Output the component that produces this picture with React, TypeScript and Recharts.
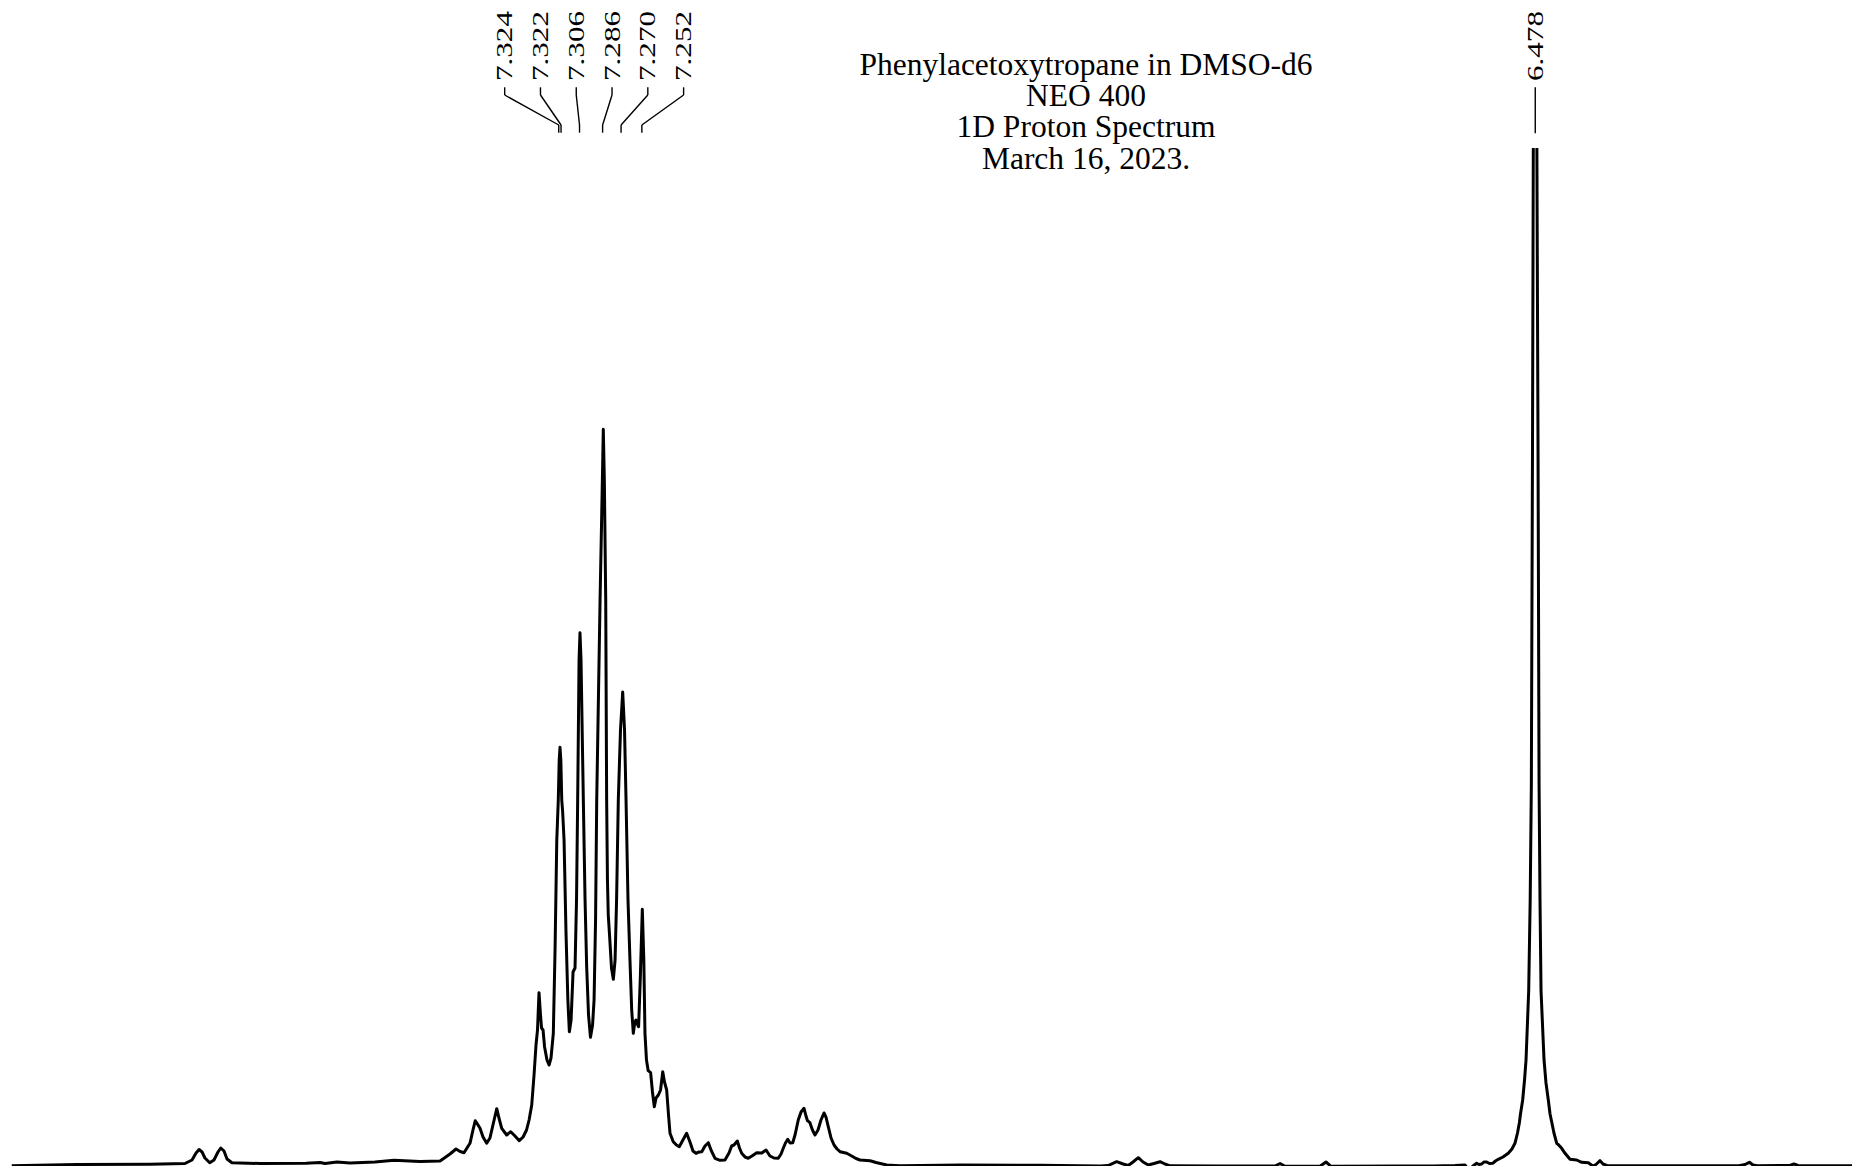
import { LineChart, Line, XAxis, YAxis, ReferenceLine, ReferenceDot } from "recharts";

// spectrum: [shift in ppm, intensity (arb.)]
const leftBaseline: [number, number][] = [
  [7.7981, 0.3], [7.7413, 1.5], [7.6781, 1.7], [7.6478, 2.5], [7.6417, 6],
  [7.6382, 13], [7.6356, 16.5], [7.633, 14], [7.6305, 8], [7.6264, 3.3],
  [7.6227, 6], [7.6192, 14], [7.6168, 18], [7.614, 15], [7.6114, 7],
  [7.6071, 3.2], [7.5828, 2.5], [7.5429, 2.7], [7.5308, 3.5], [7.5265, 2.5],
  [7.5161, 4], [7.5048, 3], [7.4832, 4], [7.4667, 5.7], [7.4442, 4.5],
  [7.4268, 5],
];

const aromaticCluster: [number, number][] = [
  [7.4182, 12], [7.413, 17], [7.4095, 14.5], [7.4061, 13.3], [7.4009, 22.7],
  [7.3983, 36], [7.3963, 45.3], [7.3939, 41], [7.3922, 37.7], [7.3896, 29],
  [7.3864, 22.7], [7.3836, 28], [7.381, 41], [7.3777, 57.3], [7.3758, 48],
  [7.3734, 37.7], [7.3691, 31], [7.3656, 34.3], [7.3619, 30], [7.3582, 25.3],
  [7.3549, 29], [7.3519, 36], [7.3497, 46], [7.3474, 61], [7.3454, 91],
  [7.3437, 121], [7.3424, 136], [7.3411, 173.3], [7.3398, 151], [7.3389, 138],
  [7.3376, 136], [7.3363, 119.3], [7.3342, 106], [7.3324, 101], [7.3307, 108],
  [7.3287, 132.7], [7.3272, 216], [7.3257, 326], [7.3244, 366], [7.3236, 406],
  [7.3229, 418.7], [7.3222, 406], [7.3214, 366], [7.3206, 354], [7.3194, 326],
  [7.3177, 233], [7.3161, 166], [7.3148, 134.3], [7.3133, 146], [7.3116, 194],
  [7.3099, 198], [7.3086, 266], [7.3076, 366], [7.3064, 506], [7.3056, 533.3],
  [7.3047, 506], [7.3027, 366], [7.3012, 266], [7.2998, 199.3], [7.2982, 151],
  [7.2965, 128.7], [7.2947, 141], [7.2934, 166], [7.2921, 246], [7.2911, 366],
  [7.2882, 566], [7.2862, 686], [7.2854, 736.7], [7.2845, 686], [7.2833, 566],
  [7.2825, 366], [7.2818, 286], [7.2811, 251], [7.28, 231], [7.2783, 198],
  [7.2767, 186.7], [7.2752, 206], [7.2739, 266], [7.2724, 366], [7.2705, 436],
  [7.2686, 474], [7.267, 436], [7.2657, 366], [7.264, 266], [7.2623, 206],
  [7.2608, 156], [7.2594, 132.7], [7.2581, 144], [7.2571, 146], [7.256, 142],
  [7.2548, 139.3], [7.2534, 186], [7.2516, 256.7], [7.2503, 206], [7.2493, 132.7],
  [7.248, 106], [7.2465, 95.3], [7.2444, 93.3], [7.2428, 74], [7.2412, 59.3],
  [7.2397, 68], [7.2377, 71], [7.2358, 76], [7.2339, 94.3], [7.2324, 84],
  [7.2305, 76], [7.2289, 51], [7.2276, 32.7], [7.2248, 24.3], [7.222, 21],
  [7.2196, 19.3], [7.2164, 26], [7.2132, 32.7], [7.2103, 24], [7.2077, 15],
  [7.2051, 12.7], [7.2025, 14], [7.2001, 14.3], [7.1973, 20], [7.1944, 23.3],
  [7.1921, 16], [7.1886, 7.7], [7.1843, 5.7], [7.18, 6], [7.1765, 13],
  [7.1742, 20], [7.1722, 21], [7.1693, 25], [7.1674, 18], [7.1655, 12.7],
  [7.1626, 9], [7.1598, 7.7], [7.1566, 10], [7.1525, 13.3], [7.1481, 13],
  [7.1457, 15], [7.1444, 16], [7.141, 10], [7.1375, 8], [7.1338, 7.7],
  [7.1314, 12], [7.1295, 17.7], [7.1276, 23], [7.1256, 26.7], [7.1236, 23],
  [7.1213, 23.3], [7.1193, 31], [7.1165, 46], [7.1141, 54], [7.1115, 57.7],
  [7.1098, 50], [7.1085, 45.3], [7.1064, 43.3], [7.1042, 36], [7.102, 31],
  [7.0994, 36], [7.0968, 46], [7.0942, 53], [7.0925, 49], [7.0905, 39.3],
  [7.0881, 28], [7.0855, 21], [7.0829, 17], [7.0803, 14.3], [7.0745, 12.7],
  [7.0702, 10], [7.0665, 7.5], [7.063, 6], [7.0543, 5.3], [7.0491, 3.5],
  [7.0399, 1],
];

const midBaseline: [number, number][] = [
  [7.0284, 0.3], [6.9755, 1], [6.9071, 0.7], [6.8551, 0], [6.8481, 0.5],
  [6.8406, 4.3], [6.8351, 2], [6.8306, 0.5], [6.8265, 4], [6.8219, 8.3],
  [6.8178, 4], [6.8132, 1], [6.8083, 2.5], [6.8031, 4.3], [6.7988, 2],
  [6.7944, 0.2], [6.7511, 0], [6.7035, 0], [6.6991, 2.5], [6.6948, -0.2],
  [6.6645, -0.3], [6.6593, 4], [6.655, -0.3], [6.5952, 0], [6.5666, 0],
  [6.5476, 0.5], [6.5389, 1], [6.5354, -4.5], [6.532, 0],
];

const singletRegion: [number, number][] = [
  [6.5288, 2.7], [6.5268, 1.5], [6.5244, 2], [6.5225, 4], [6.5201, 4],
  [6.5177, 2.5], [6.5149, 2.7], [6.5125, 5], [6.5101, 6.7], [6.506, 9],
  [6.5014, 12.7], [6.4982, 17], [6.4956, 22.7], [6.4934, 33], [6.4918, 43],
  [6.4908, 52], [6.4889, 66], [6.4873, 86], [6.486, 106], [6.4837, 175],
  [6.4824, 266], [6.4814, 381], [6.4804, 716], [6.4797, 1018], [6.4781, 1300],
  [6.4766, 1018], [6.4756, 716], [6.4747, 381], [6.4739, 266], [6.473, 175],
  [6.4704, 106], [6.4687, 83], [6.4667, 66], [6.4652, 52], [6.4638, 44.3],
  [6.4618, 33], [6.4594, 22.7], [6.4581, 21.5], [6.4551, 17.7], [6.4522, 12.7],
  [6.4479, 6.7], [6.4421, 6], [6.4378, 3.7], [6.432, 3.3], [6.4282, 0],
  [6.4254, 1.5], [6.4219, 5.3], [6.4193, 2], [6.4156, 0.3],
];

const rightBaseline: [number, number][] = [
  [6.3526, 0.3], [6.3015, 0.3], [6.2963, 1.5], [6.2925, 3.7], [6.2894, 1],
  [6.2856, 0.3], [6.2573, 0.5], [6.2539, 2], [6.2504, 0.5], [6.2036, 0.3],
];

const multipletShifts = [7.324, 7.322, 7.306, 7.286, 7.27, 7.252];
const multipletLabels = ["7.324", "7.322", "7.306", "7.286", "7.270", "7.252"];
const singletShift = 6.478;
const singletLabel = "6.478";

const titleLines = [
  "Phenylacetoxytropane in DMSO-d6",
  "NEO 400",
  "1D Proton Spectrum",
  "March 16, 2023.",
];

const spectrum = [
  ...leftBaseline,
  ...aromaticCluster,
  ...midBaseline,
  ...singletRegion,
  ...rightBaseline,
].map(([ppm, intensity]) => ({ ppm, intensity }));

const W = 1860;
const H = 1176;
const PLOT_TOP = 148;
const PLOT_BOTTOM = 1166;
const Y_MAX = 1018;
const SERIF = "'Liberation Serif', 'Times New Roman', serif";

// pixel row -> value on the intensity axis (annotations sit above the plot)
const yVal = (px: number) => ((PLOT_BOTTOM - px) * Y_MAX) / (PLOT_BOTTOM - PLOT_TOP);

const LABEL_STEP = 0.031; // ppm between neighbouring labels
const meanShift = multipletShifts.reduce((a, b) => a + b, 0) / multipletShifts.length;
const labelShifts = multipletShifts.map(
  (_, i) => meanShift + ((multipletShifts.length - 1) / 2 - i) * LABEL_STEP
);

const peakText = (text: string) => (props: any) => {
  const { cx, cy } = props;
  return (
    <text
      x={cx}
      y={cy}
      transform={`rotate(-90 ${cx} ${cy})`}
      textLength={70}
      lengthAdjust="spacingAndGlyphs"
      fontFamily={SERIF}
      fontSize={23}
      dominantBaseline="central"
      fill="#000"
    >
      {text}
    </text>
  );
};

const connector = { stroke: "#000", strokeWidth: 1.4, ifOverflow: "visible" as const };

export default function App() {
  return (
    <div style={{ position: "absolute", left: 0, top: 0, width: W, height: H, background: "#fff" }}>
      <LineChart
        width={W}
        height={H}
        data={spectrum}
        margin={{ top: PLOT_TOP, right: 8, bottom: H - PLOT_BOTTOM, left: 11.5 }}
      >
        <XAxis
          dataKey="ppm"
          type="number"
          domain={[6.2036, 7.7981]}
          reversed
          allowDataOverflow
          hide
        />
        <YAxis type="number" domain={[0, Y_MAX]} allowDataOverflow hide />
        <Line
          type="linear"
          dataKey="intensity"
          stroke="#000"
          strokeWidth={3}
          strokeLinejoin="round"
          dot={false}
          isAnimationActive={false}
        />
        {multipletShifts.map((s, i) => [
          <ReferenceLine
            key={`a${i}`}
            segment={[{ x: labelShifts[i], y: yVal(87.3) }, { x: labelShifts[i], y: yVal(95) }]}
            {...connector}
          />,
          <ReferenceLine
            key={`b${i}`}
            segment={[{ x: labelShifts[i], y: yVal(95) }, { x: s, y: yVal(125) }]}
            {...connector}
          />,
          <ReferenceLine
            key={`c${i}`}
            segment={[{ x: s, y: yVal(125) }, { x: s, y: yVal(132.7) }]}
            {...connector}
          />,
          <ReferenceDot
            key={`t${i}`}
            x={labelShifts[i]}
            y={yVal(81)}
            r={0}
            ifOverflow="visible"
            shape={peakText(multipletLabels[i])}
          />,
        ])}
        <ReferenceLine
          segment={[{ x: singletShift, y: yVal(87.3) }, { x: singletShift, y: yVal(133.3) }]}
          {...connector}
        />
        <ReferenceDot
          x={singletShift}
          y={yVal(81)}
          r={0}
          ifOverflow="visible"
          shape={peakText(singletLabel)}
        />
      </LineChart>
      <svg
        width={W}
        height={200}
        style={{ position: "absolute", left: 0, top: 0, pointerEvents: "none" }}
      >
        {titleLines.map((t, i) => (
          <text
            key={t}
            x={1086}
            y={75 + i * 31.2}
            textAnchor="middle"
            fontFamily={SERIF}
            fontSize={31.5}
            fill="#000"
          >
            {t}
          </text>
        ))}
      </svg>
    </div>
  );
}
